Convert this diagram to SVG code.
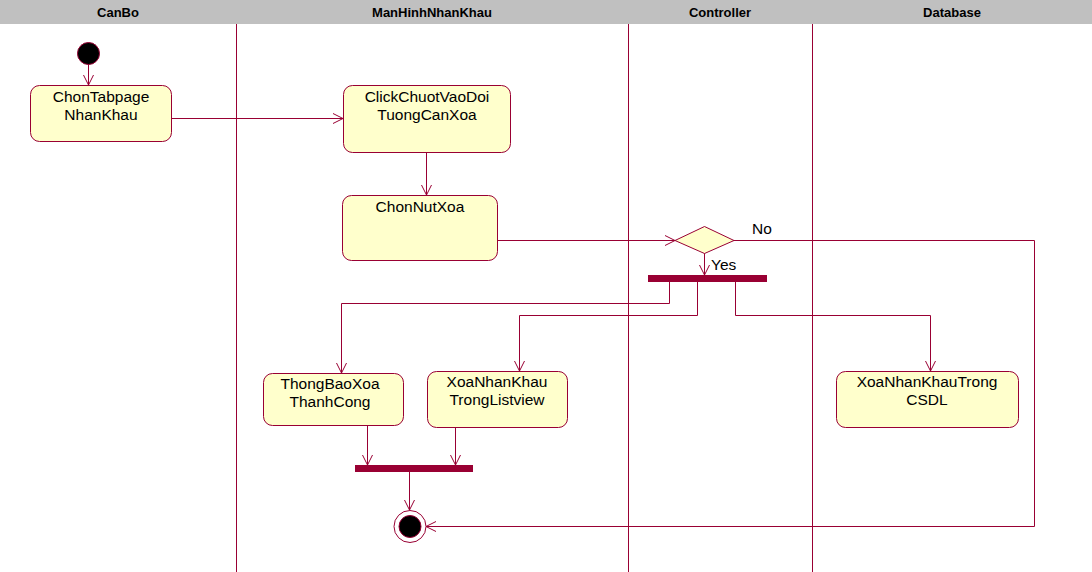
<svg xmlns="http://www.w3.org/2000/svg" width="1092" height="572" viewBox="0 0 1092 572">
<defs>
<marker id="arr" viewBox="0 0 12 12" refX="11" refY="6" markerWidth="12" markerHeight="12" markerUnits="userSpaceOnUse" orient="auto">
<path d="M1,1 L11,6 L1,11" fill="none" stroke="#990033" stroke-width="1"/>
</marker>
<style>
.lane{stroke:#990033;stroke-width:1}
.hd{font-family:"Liberation Sans",Arial,sans-serif;font-weight:bold;font-size:13px;fill:#000;text-anchor:middle}
.act{fill:#FFFFCC;stroke:#990033;stroke-width:1}
.t{font-family:"Liberation Sans",Arial,sans-serif;font-size:15.5px;fill:#000;text-anchor:middle}
.lb{font-family:"Liberation Sans",Arial,sans-serif;font-size:15.5px;fill:#000}
.c{fill:none;stroke:#990033;stroke-width:1;marker-end:url(#arr)}
.bar{fill:#990033}
</style>
</defs>
<rect x="0" y="0" width="1092" height="572" fill="#fff"/>
<rect x="0" y="0" width="1092" height="24" fill="#C0C0C0"/>
<text class="hd" x="118" y="17">CanBo</text>
<text class="hd" x="432" y="17">ManHinhNhanKhau</text>
<text class="hd" x="720" y="17">Controller</text>
<text class="hd" x="952" y="17">Database</text>
<line class="lane" x1="236.5" y1="24" x2="236.5" y2="572"/>
<line class="lane" x1="628.5" y1="24" x2="628.5" y2="572"/>
<line class="lane" x1="812.5" y1="24" x2="812.5" y2="572"/>
<g id="connectors">
<path class="c" d="M88.5,64 V85"/>
<path class="c" d="M171,118.5 H343"/>
<path class="c" d="M426.5,152 V195"/>
<path class="c" d="M497,240.5 H675"/>
<path class="c" d="M734,240.5 H1034.5 V526.5 H426"/>
<path class="c" d="M704.5,253 V275"/>
<path class="c" d="M669.5,282 V303.5 H341.5 V373"/>
<path class="c" d="M697.5,282 V315.5 H519.5 V371"/>
<path class="c" d="M735.5,282 V315.5 H930.5 V371"/>
<path class="c" d="M367.5,425 V465"/>
<path class="c" d="M455.5,427 V465"/>
<path class="c" d="M409.5,472 V510"/>
<text class="lb" x="752" y="234">No</text>
<text class="lb" x="711" y="270">Yes</text>
</g>
<g id="start"><circle cx="88.5" cy="53.5" r="11" fill="#000" stroke="#990033"/></g>
<g id="chonTabpage"><rect class="act" x="30.5" y="85.5" width="141" height="56" rx="9"/><text class="t" x="101" y="102">ChonTabpage</text><text class="t" x="101" y="120">NhanKhau</text></g>
<g id="clickChuot"><rect class="act" x="343.5" y="85.5" width="167" height="67" rx="9"/><text class="t" x="427" y="102">ClickChuotVaoDoi</text><text class="t" x="427" y="120">TuongCanXoa</text></g>
<g id="chonNutXoa"><rect class="act" x="342.5" y="195.5" width="155" height="65" rx="9"/><text class="t" x="420" y="212">ChonNutXoa</text></g>
<g id="decision"><polygon class="act" points="675,240.5 704.5,226.5 734,240.5 704.5,253.5"/></g>
<g id="fork"><rect class="bar" x="648" y="275" width="119" height="7"/></g>
<g id="thongBao"><rect class="act" x="263.5" y="373.5" width="140" height="52" rx="9"/><text class="t" x="330" y="389">ThongBaoXoa</text><text class="t" x="330" y="407">ThanhCong</text></g>
<g id="xoaListview"><rect class="act" x="427.5" y="371.5" width="140" height="56" rx="9"/><text class="t" x="497" y="387">XoaNhanKhau</text><text class="t" x="497" y="405">TrongListview</text></g>
<g id="xoaCSDL"><rect class="act" x="836.5" y="371.5" width="182" height="56" rx="9"/><text class="t" x="927" y="387">XoaNhanKhauTrong</text><text class="t" x="927" y="405">CSDL</text></g>
<g id="join"><rect class="bar" x="355" y="465" width="118" height="7"/></g>
<g id="end"><circle cx="410" cy="526.5" r="16" fill="#fff" stroke="#990033"/><circle cx="410" cy="526.5" r="11" fill="#000" stroke="#990033"/></g>
</svg>
